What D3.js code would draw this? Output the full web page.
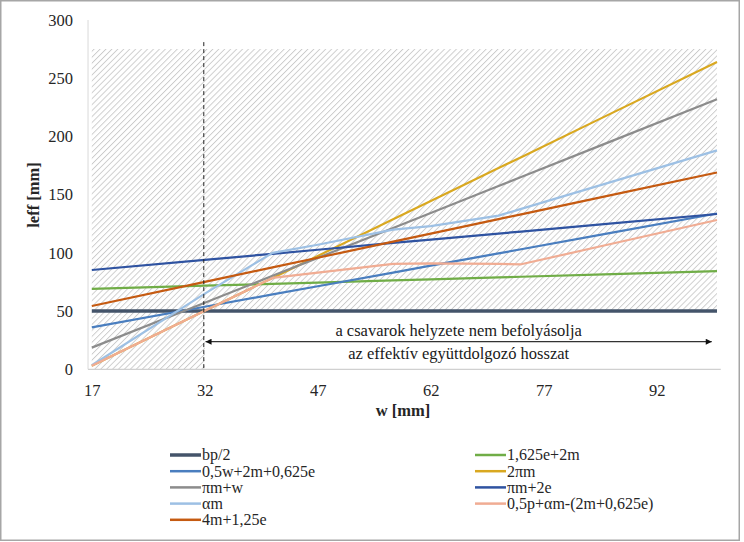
<!DOCTYPE html>
<html>
<head>
<meta charset="utf-8">
<script src="https://cdn.jsdelivr.net/npm/d3@7"></script>
<style>
  html, body { margin: 0; padding: 0; background: #fff; }
  svg { display: block; }
</style>
</head>
<body>
<svg id="chart" width="744" height="542"></svg>
<script>
// ---- data ----
const wGrid = [17, 32, 41, 47, 57, 62, 71, 74, 85, 100];
const seriesNames = ["bp/2", "1,625e+2m", "0,5w+2m+0,625e", "2πm", "πm+w", "πm+2e", "αm", "0,5p+αm-(2m+0,625e)", "4m+1,25e"];
const bp2     = [50, 50, 50, 50, 50, 50, 50, 50, 50, 50];
const s16e2m  = [69, 71.8, 73.4, 74.5, 76.4, 77.3, 78.9, 79.5, 81.5, 84.3];
const s05w    = [36, 53.7, 64.3, 71.3, 83.1, 89, 99.6, 103.1, 116.1, 133.8];
const s2pim   = [3.1, 50.3, 78.5, 97.4, 128.8, 144.5, 172.8, 182.2, 216.8, 263.9];
const spimw   = [18.6, 57.1, 80.3, 95.7, 121.4, 134.3, 157.4, 165.1, 193.4, 231.9];
const spim2e  = [85.3, 94, 99.2, 102.7, 108.5, 111.4, 116.6, 118.3, 124.7, 133.4];
const salpham = [3.5, 65, 100, 107, 120, 123, 132, 137.8, 159, 188];
const s05p    = [3.1, 50.3, 78.5, 83, 90.5, 91, 90.5, 90.2, 106.3, 128.2];
const s4m     = [54.4, 75.1, 87.5, 95.8, 109.6, 116.5, 129, 133.1, 148.3, 169];
const seriesValues = [bp2, s16e2m, s05w, s2pim, spimw, spim2e, salpham, s05p, s4m];
const seriesColors = ["#44546A", "#70AD47", "#4A7EBF", "#D9A820", "#8C8C8C", "#2F53A1", "#9DC0E4", "#F0AC93", "#C55A11"];
const seriesWidths = [3.5, 2.2, 2.2, 2.2, 2.2, 2.2, 2.2, 2.2, 2.2];

const hatchW    = [17, 32, 32, 100];
const hatchLow  = [0, 0, 50, 50];
const hatchHigh = [275, 275, 275, 275];

const xTicks = [17, 32, 47, 62, 77, 92];
const yTicks = [0, 50, 100, 150, 200, 250, 300];

const dashW = 32, dashTop = 281;
const arrowFromW = 32.1, arrowToW = 99.3, arrowVal = 23.7;
const noteLines = ["a csavarok helyzete nem befolyásolja", "az effektív együttdolgozó hosszat"];

const FONT = "'Liberation Serif', 'Times New Roman', serif";
const FS = 16.5;

// ---- scales ----
const x = d3.scaleLinear().domain([17, 100]).range([91.8, 717]);
const y = d3.scaleLinear().domain([0, 300]).range([369.3, 20]);
const half = (x(18) - x(17)) / 2;
const plotL = x(17) - half, plotR = x(100) + half;

const svg = d3.select("#chart");
const defs = svg.append("defs");

function txt(sel, size) {
  return sel.style("font-family", FONT).attr("font-size", size || FS).attr("fill", "#262626");
}

// hatch pattern
const pat = defs.append("pattern").attr("id", "hatch")
  .attr("patternUnits", "userSpaceOnUse").attr("width", 4.2).attr("height", 4)
  .attr("patternTransform", "rotate(45)");
pat.append("line").attr("x1", 0.5).attr("y1", 0).attr("x2", 0.5).attr("y2", 4)
  .attr("stroke", "#C6C6C6").attr("stroke-width", 0.85);

// arrow markers
["start", "end"].forEach(k => {
  const m = defs.append("marker").attr("id", "arr-" + k)
    .attr("viewBox", "0 0 10 10").attr("refX", k === "end" ? 10 : 0).attr("refY", 5)
    .attr("markerUnits", "userSpaceOnUse").attr("markerWidth", 9).attr("markerHeight", 6)
    .attr("orient", "auto");
  m.append("path").attr("d", k === "end" ? "M0,0 L10,5 L0,10 Z" : "M10,0 L0,5 L10,10 Z").attr("fill", "#111");
});

// outer frame
svg.append("rect").attr("x", 0.75).attr("y", 0.75).attr("width", 738.5).attr("height", 539.5)
  .attr("fill", "#fff").attr("stroke", "#A6A6A6").attr("stroke-width", 1.5);

// hatched area
const hatchData = hatchW.map((w, i) => ({ w, lo: hatchLow[i], hi: hatchHigh[i] }));
svg.append("path").datum(hatchData)
  .attr("d", d3.area().x(d => x(d.w)).y0(d => y(d.lo)).y1(d => y(d.hi)))
  .attr("fill", "url(#hatch)");

// axes lines
svg.append("line").attr("x1", plotL).attr("x2", plotL).attr("y1", y(300)).attr("y2", y(0))
  .attr("stroke", "#D9D9D9").attr("stroke-width", 1);
svg.append("line").attr("x1", plotL).attr("x2", plotR).attr("y1", y(0)).attr("y2", y(0))
  .attr("stroke", "#D0D0D0").attr("stroke-width", 1.2);

// y tick labels
const yAxis = d3.axisLeft(y).tickValues(yTicks).tickSize(0).tickPadding(0);
const gy = svg.append("g").attr("transform", `translate(73,0)`).call(yAxis);
gy.select(".domain").remove();
txt(gy.selectAll("text"));

// x tick labels
const xAxis = d3.axisBottom(x).tickValues(xTicks).tickSize(0).tickPadding(0).tickFormat(d3.format("d"));
const gx = svg.append("g").attr("transform", `translate(0,384.3)`).call(xAxis);
gx.select(".domain").remove();
txt(gx.selectAll("text"));

// axis titles
txt(svg.append("text")).attr("x", 403).attr("y", 416).attr("text-anchor", "middle")
  .attr("font-weight", "bold").text("w [mm]");
txt(svg.append("text")).attr("transform", "translate(39,195) rotate(-90)").attr("text-anchor", "middle")
  .attr("font-weight", "bold").text("leff [mm]");

// series lines
const line = d3.line().x(d => x(d[0])).y(d => y(d[1]));
seriesValues.forEach((vals, i) => {
  svg.append("path").datum(wGrid.map((w, j) => [w, vals[j]]))
    .attr("d", line).attr("fill", "none")
    .attr("stroke", seriesColors[i]).attr("stroke-width", seriesWidths[i])
    .attr("stroke-linejoin", "round").attr("stroke-linecap", "butt");
});

// dashed vertical line
svg.append("line").attr("x1", x(dashW) - 1).attr("x2", x(dashW) - 1)
  .attr("y1", y(dashTop)).attr("y2", y(0))
  .attr("stroke", "#222").attr("stroke-width", 1).attr("stroke-dasharray", "4,3");

// arrow
svg.append("line").attr("x1", x(arrowFromW)).attr("x2", x(arrowToW))
  .attr("y1", y(arrowVal)).attr("y2", y(arrowVal))
  .attr("stroke", "#333").attr("stroke-width", 1.2)
  .attr("marker-start", "url(#arr-start)").attr("marker-end", "url(#arr-end)");

const noteX = (x(arrowFromW) + x(arrowToW)) / 2;
txt(svg.append("text")).attr("x", noteX).attr("y", y(arrowVal) - 5.5).attr("text-anchor", "middle")
  .attr("fill", "#1a1a1a").text(noteLines[0]);
txt(svg.append("text")).attr("x", noteX).attr("y", y(arrowVal) + 17).attr("text-anchor", "middle")
  .attr("fill", "#1a1a1a").text(noteLines[1]);

// legend
const legendCols = [170, 475];
const legendTop = 455, legendStep = 16.2;
seriesNames.forEach((name, i) => {
  const col = i % 2, row = Math.floor(i / 2);
  const lx = legendCols[col], ly = legendTop + row * legendStep;
  const g = svg.append("g").attr("transform", `translate(${lx},${ly})`);
  g.append("line").attr("x1", 0).attr("x2", 31).attr("y1", 0).attr("y2", 0)
    .attr("stroke", seriesColors[i]).attr("stroke-width", i === 0 ? 3.5 : 2.5);
  txt(g.append("text"), 16).attr("x", 32).attr("y", 5.3).text(name);
});
</script>
</body>
</html>
